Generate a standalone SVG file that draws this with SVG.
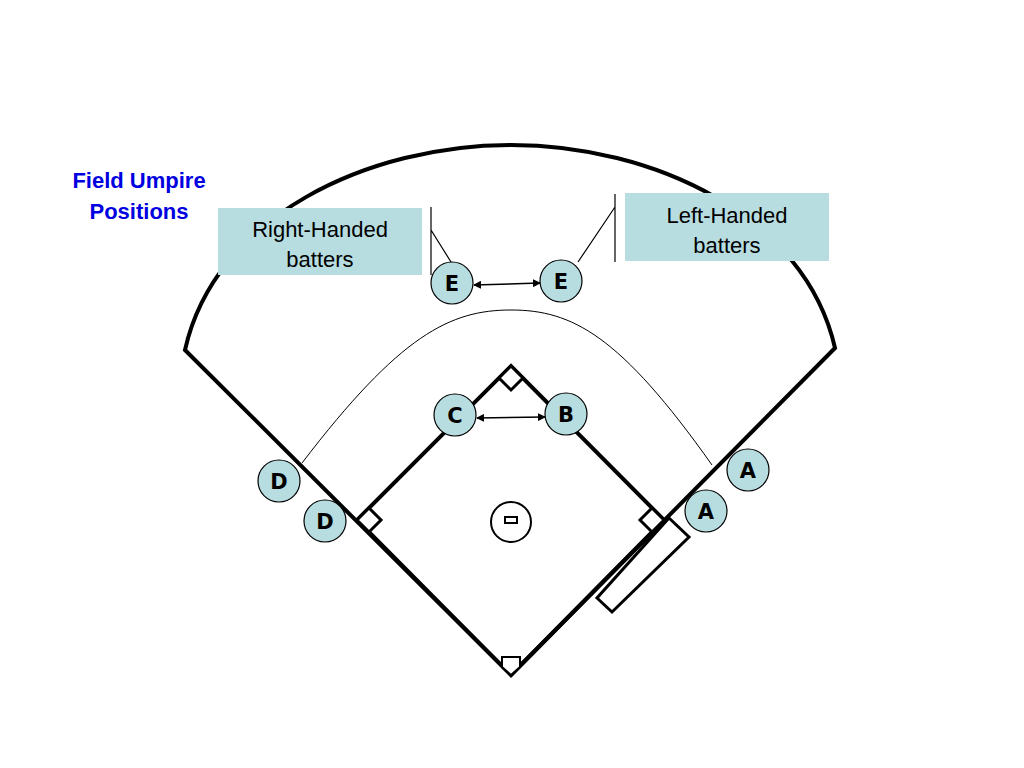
<svg xmlns="http://www.w3.org/2000/svg" width="1024" height="768" viewBox="0 0 1024 768">
<style>
.f{fill:none;stroke:#000;stroke-width:4;stroke-linejoin:miter}
.b{fill:#fff;stroke:#000;stroke-width:3}
.u circle{fill:#b7dde0;stroke:#000;stroke-width:1.2}
.u text{font-family:"DejaVu Sans",sans-serif;font-weight:bold;font-size:21px;text-anchor:middle}
.lbl{font-family:"Liberation Sans",Arial,sans-serif;font-size:22px;text-anchor:middle}
.t{font-family:"Liberation Sans",Arial,sans-serif;font-size:22px;font-weight:bold;fill:#0000e0;text-anchor:middle}
</style>
<defs><marker id="ar" markerWidth="8" markerHeight="8" refX="7" refY="4" orient="auto-start-reverse" markerUnits="userSpaceOnUse"><path d="M0,0L8,4L0,8z"/></marker></defs>
<rect width="1024" height="768" fill="#fff"/>
<g id="field">
<path class="f" d="M185,350 C215,215 370,145 511,145 C652,145 805,215 835,348 L511,675 Z"/>
<path d="M302,463 C400,335 450,310 511,310 C572,310 620,335 712,465" fill="none" stroke="#000" stroke-width="1"/>
<path class="f" d="M511,675 L664,520 L511,366 L357,520 Z"/>
<polygon class="b" points="669,518 689,537 612,612 597,598"/>
<polygon class="b" points="664,520 652,508 640,520 652,532"/>
<polygon class="b" points="511,366 523,378 511,390 499,378"/>
<polygon class="b" points="357,520 369,508 381,520 369,532"/>
<polygon fill="#fff" stroke="#000" stroke-width="2" points="502,657 520,657 520,667 511,675 502,667"/>
<circle cx="511" cy="522" r="20" fill="#fff" stroke="#000" stroke-width="2"/>
<rect x="505" y="517" width="12" height="6" fill="#fff" stroke="#000" stroke-width="2"/>
</g>
<g id="title"><text class="t" x="139" y="188">Field Umpire</text><text class="t" x="139" y="219">Positions</text></g>
<g id="rh"><rect x="218" y="208" width="204" height="67" fill="#b7dde0"/><text class="lbl" x="320" y="237">Right-Handed</text><text class="lbl" x="320" y="267">batters</text></g>
<g id="lh"><rect x="625" y="193" width="204" height="68" fill="#b7dde0"/><text class="lbl" x="727" y="223">Left-Handed</text><text class="lbl" x="727" y="253">batters</text></g>
<g id="connectors" stroke="#000" fill="none">
<path d="M431,207V275M431,230L451,262" stroke-width="1.2"/>
<path d="M615,194V262M615,207L578,262" stroke-width="1.2"/>
<line x1="474" y1="285" x2="540" y2="283" stroke-width="1.5" marker-start="url(#ar)" marker-end="url(#ar)"/>
<line x1="477" y1="418" x2="545" y2="417" stroke-width="1.5" marker-start="url(#ar)" marker-end="url(#ar)"/>
</g>
<g id="E1" class="u"><circle cx="452" cy="283" r="21"/><text x="452" y="291">E</text></g>
<g id="E2" class="u"><circle cx="561" cy="281" r="21"/><text x="561" y="289">E</text></g>
<g id="C" class="u"><circle cx="455" cy="415" r="21"/><text x="455" y="423">C</text></g>
<g id="B" class="u"><circle cx="566" cy="414" r="21"/><text x="566" y="422">B</text></g>
<g id="D1" class="u"><circle cx="279" cy="481" r="21"/><text x="279" y="489">D</text></g>
<g id="D2" class="u"><circle cx="325" cy="521" r="21"/><text x="325" y="529">D</text></g>
<g id="A1" class="u"><circle cx="748" cy="470" r="21"/><text x="748" y="478">A</text></g>
<g id="A2" class="u"><circle cx="706" cy="511" r="21"/><text x="706" y="519">A</text></g>
</svg>
